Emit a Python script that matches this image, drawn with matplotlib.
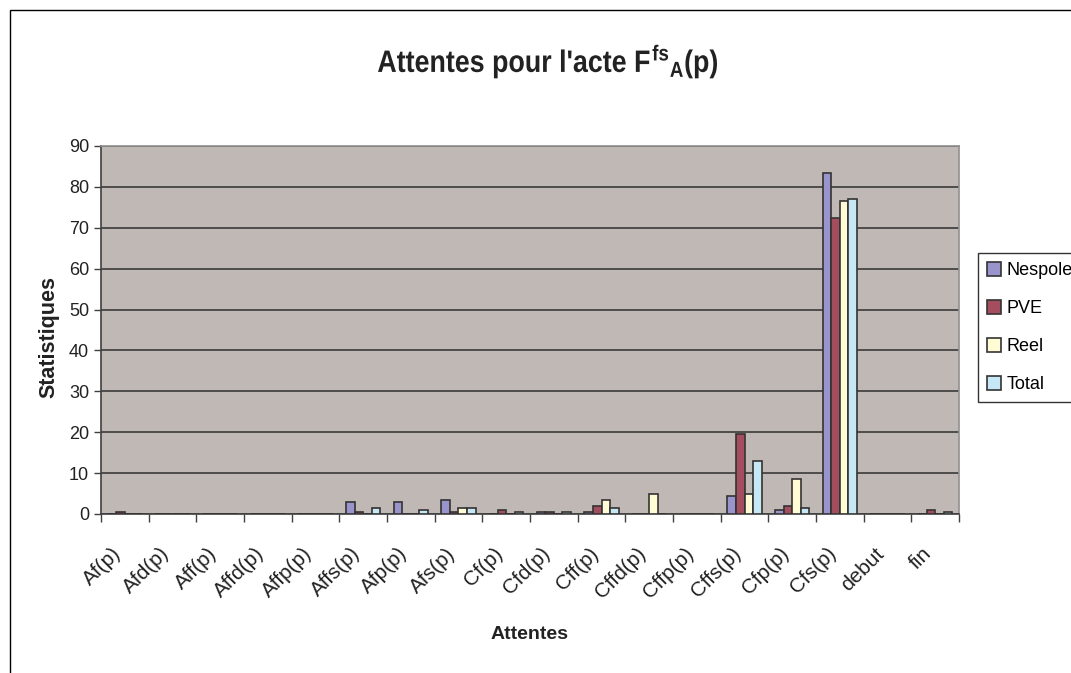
"""
Bar chart: attentes pour l'acte F^fs_A(p), four series per category.
"""

import numpy as np
import matplotlib.pyplot as plt
from matplotlib.patches import Rectangle, PathPatch
from matplotlib.textpath import TextPath
from matplotlib.font_manager import FontProperties
from matplotlib.transforms import Affine2D, ScaledTranslation

plt.rcParams['font.family'] = ['Liberation Sans', 'DejaVu Sans']
plt.rcParams['mathtext.fontset'] = 'custom'
plt.rcParams['mathtext.rm'] = 'Liberation Sans:bold'
plt.rcParams['mathtext.it'] = 'Liberation Sans:bold'
plt.rcParams['mathtext.bf'] = 'Liberation Sans:bold'

categories = ['Af(p)', 'Afd(p)', 'Aff(p)', 'Affd(p)', 'Affp(p)', 'Affs(p)', 'Afp(p)',
              'Afs(p)', 'Cf(p)', 'Cfd(p)', 'Cff(p)', 'Cffd(p)', 'Cffp(p)', 'Cffs(p)',
              'Cfp(p)', 'Cfs(p)', 'debut', 'fin']
nespole = [0, 0, 0, 0, 0, 3, 3, 3.5, 0, 0.5, 0.5, 0, 0, 4.5, 1, 83.5, 0, 0]
pve = [0.5, 0, 0, 0, 0, 0.5, 0, 0.5, 1, 0.5, 2, 0, 0, 19.5, 2, 72.5, 0, 1]
reel = [0, 0, 0, 0, 0, 0, 0, 1.5, 0, 0, 3.5, 5, 0, 5, 8.5, 76.5, 0, 0]
total = [0, 0, 0, 0, 0, 1.5, 1, 1.5, 0.5, 0.5, 1.5, 0, 0, 13, 1.5, 77, 0, 0.5]

series = [('Nespole', nespole, '#9a94cc'),
          ('PVE', pve, '#a34d5e'),
          ('Reel', reel, '#fffbd4'),
          ('Total', total, '#c6e8f6')]

W, H = 1071, 673
fig = plt.figure(figsize=(W / 100, H / 100), dpi=100)
ax = fig.add_axes([101 / W, 1 - 514 / H, 858 / W, 368 / H])
ax.set_facecolor('#c0b8b5')

x = np.arange(len(categories))
bw = 0.18
for i, (name, vals, col) in enumerate(series):
    ax.bar(x + (i - 1.5) * bw, vals, bw, color=col, edgecolor='#333333',
           linewidth=1.2, label=name, zorder=3)

ax.set_xlim(-0.5, len(categories) - 0.5)
ax.set_ylim(0, 90)
ax.set_yticks(np.arange(0, 91, 10))
ax.yaxis.grid(True, color='#3a3a3a', linewidth=1.2, zorder=1)
ax.set_xticks(np.arange(-0.5, len(categories), 1))
ax.set_xticklabels([])
ax.tick_params(axis='x', length=6, width=1, color='#404040')
ax.tick_params(axis='y', length=5, width=1, color='#404040', labelsize=13,
               labelcolor='#222222')

# category labels, rotated like Excel, hanging under each group
lab_tr = ax.get_xaxis_transform() + ScaledTranslation(-13 / 100, -30 / 100, fig.dpi_scale_trans)
for xi, lab in zip(x, categories):
    ax.text(xi, 0, lab, transform=lab_tr, rotation=45, ha='right', va='top',
            rotation_mode='anchor', fontsize=15, color='#222222')

for s in ['left', 'bottom']:
    ax.spines[s].set_color('#404040')
    ax.spines[s].set_linewidth(1.2)
for s in ['top', 'right']:
    ax.spines[s].set_color('#909090')
    ax.spines[s].set_linewidth(1.2)

ax.set_ylabel('Statistiques', fontsize=15.5, fontweight='bold', color='#222222')
ax.yaxis.set_label_coords(-0.049, 0.481)
ax.set_xlabel('Attentes', fontsize=14, fontweight='bold', color='#222222')
ax.xaxis.set_label_coords(0.5, -0.305)

# title drawn as a path, squeezed horizontally like the original
title = r"Attentes pour l'acte $F^{fs}{}_{A}$(p)"
tp = TextPath((0, 0), title, size=31, prop=FontProperties(family='Liberation Sans', weight='bold'))
ext = tp.get_extents()
sx = 339 / ext.width
tr = Affine2D().translate(-ext.x0, 0).scale(sx, 1).translate(378, H - 72)
tr = tr + Affine2D().scale(1 / W, 1 / H) + fig.transFigure
fig.patches.append(PathPatch(tp, transform=tr, facecolor='#222222', edgecolor='none'))

leg = fig.legend(loc='upper left', bbox_to_anchor=(978 / W, 1 - 253 / H),
                 fontsize=13, frameon=True, fancybox=False, edgecolor='black',
                 handlelength=0.8, handleheight=0.8, handletextpad=0.3,
                 labelspacing=1.15, borderpad=0.5, borderaxespad=0)
leg.get_frame().set_linewidth(1.0)

# outer chart border
fig.patches.append(Rectangle((10 / W, -0.1), 1.2, 1 - 10 / H + 0.1,
                             transform=fig.transFigure, fill=False,
                             edgecolor='black', linewidth=1.0))

fig.savefig('out.png', dpi=100)
